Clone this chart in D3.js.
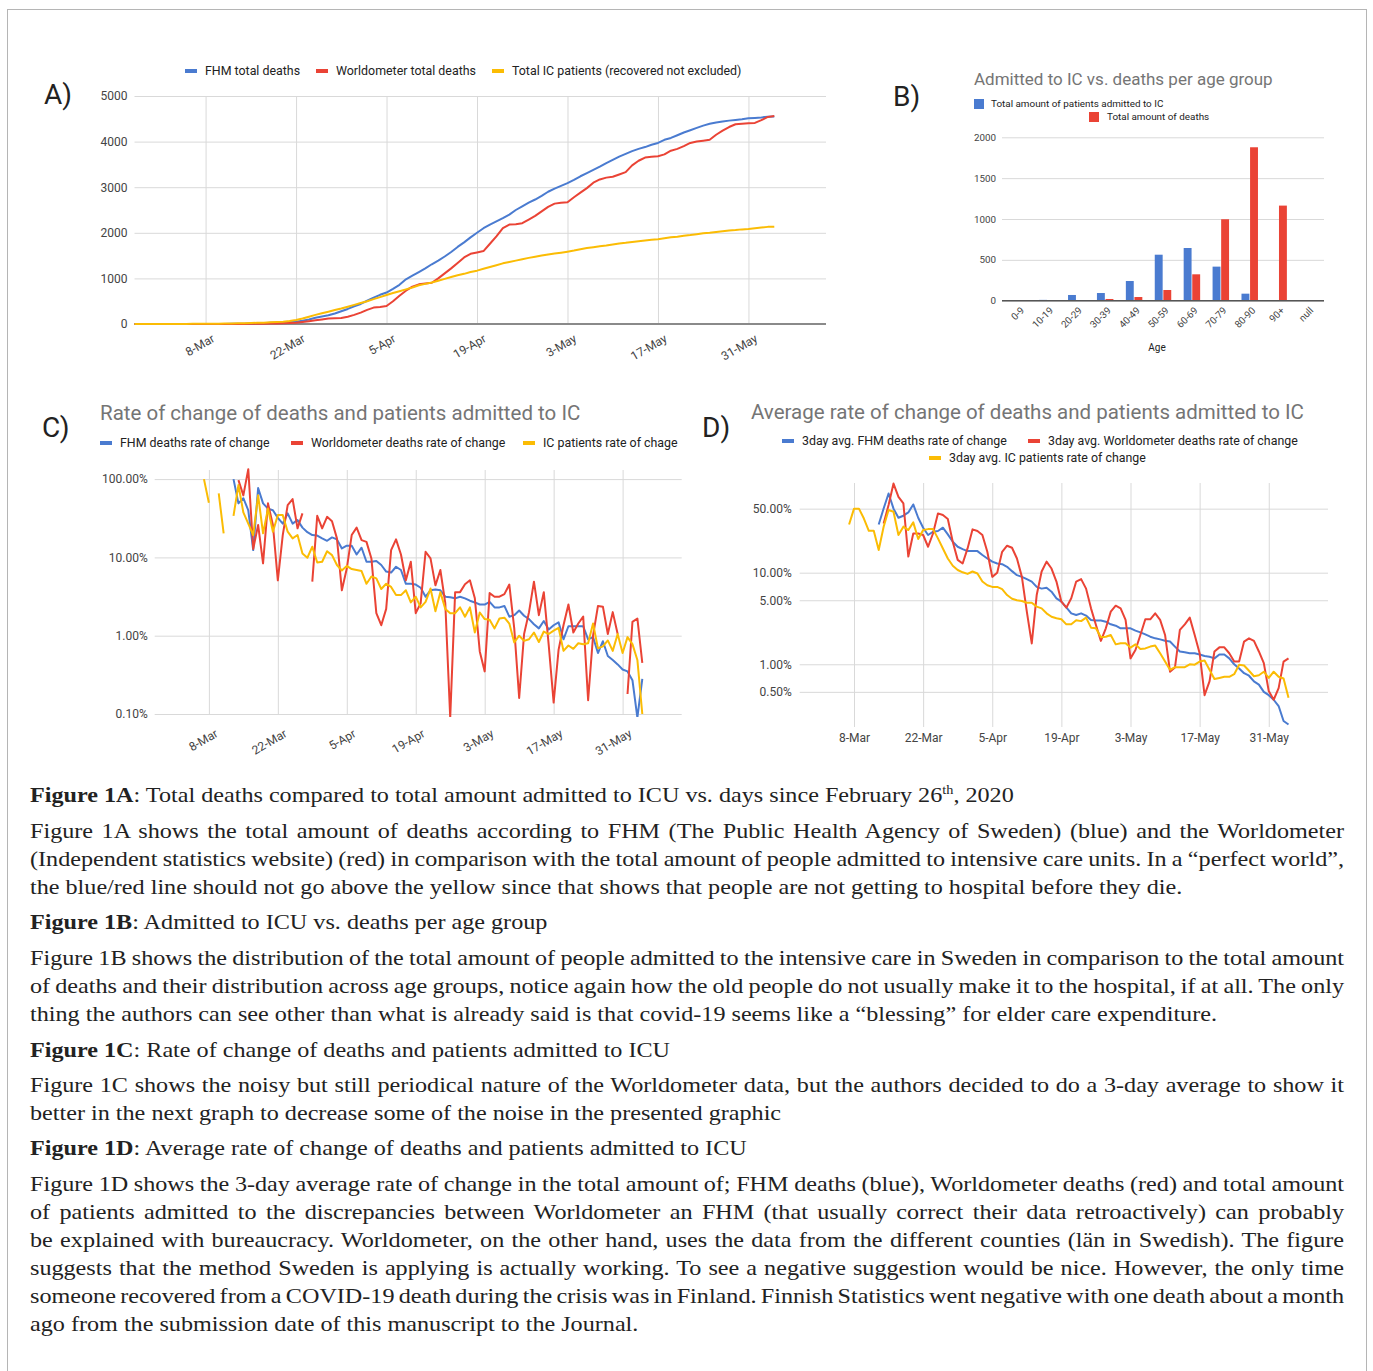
<!DOCTYPE html>
<html>
<head>
<meta charset="utf-8">
<script src="https://cdn.jsdelivr.net/npm/d3@7"></script>
<style>
  body { margin: 0; background: #fff; }
</style>
</head>
<body>
<svg id="fig" width="1373" height="1371"></svg>
<script>
// ---------- data ----------
const tickLabels = ["8-Mar", "22-Mar", "5-Apr", "19-Apr", "3-May", "17-May", "31-May"];

// A) cumulative totals, one value per day starting 26-Feb-2020
const fhmTotal = [
  0,0,0,0,0,0,0,0,0,0,0,0,1,1,2,3,5,8,10,14,18,25,
  30,37,44,51,70,100,135,165,190,230,
  280,330,390,440,510,580,640,690,770,860,
  980,1060,1140,1220,1310,1390,1480,1580,1690,1790,
  1900,2000,2100,2180,2250,2320,2400,2500,2580,2660,
  2730,2810,2900,2970,3030,3090,3160,3240,3310,3380,
  3450,3530,3600,3670,3730,3790,3840,3880,3930,3970,
  4040,4080,4140,4200,4250,4300,4350,4390,4420,4440,
  4460,4475,4490,4510,4520,4530,4545,4550
];
const worldTotal = [
  0,0,0,0,0,0,0,0,0,0,0,0,0,0,1,1,1,2,4,7,
  8,10,12,16,21,29,45,62,80,100,
  120,124,130,160,200,250,310,360,375,395,
  500,620,730,820,870,890,905,1000,1110,1220,
  1340,1460,1540,1570,1600,1760,1920,2100,2180,2190,
  2210,2290,2370,2470,2570,2640,2660,2670,2780,2880,
  2980,3100,3170,3210,3230,3280,3330,3480,3580,3650,
  3670,3680,3720,3800,3840,3900,3970,4000,4020,4040,
  4150,4240,4320,4380,4390,4400,4410,4470,4540,4560
];
const icTotal = [
  0,0,0,0,0,0,1,1,2,3,4,5,6,8,10,12,
  15,18,22,26,30,36,43,51,65,88,
  120,160,200,235,270,305,340,380,420,460,
  500,545,590,636,680,720,760,800,850,880,
  910,950,990,1030,1070,1100,1140,1170,1210,1250,
  1290,1330,1360,1390,1420,1450,1475,1500,1525,1545,
  1565,1586,1610,1640,1665,1685,1705,1720,1745,1765,
  1780,1800,1815,1830,1845,1860,1880,1900,1915,1935,
  1950,1970,1990,2000,2020,2035,2050,2060,2075,2085,
  2100,2115,2130,2135
];
const totalTicks = [0, 1000, 2000, 3000, 4000, 5000];

// B) per age group
const ageGroups = ["0-9", "10-19", "20-29", "30-39", "40-49", "50-59", "60-69", "70-79", "80-90", "90+", "null"];
const icByAge = [7, 10, 70, 94, 241, 563, 645, 417, 86, 2, 0];
const deathsByAge = [1, 1, 8, 21, 45, 131, 323, 997, 1878, 1164, 0];
const ageTicks = [0, 500, 1000, 1500, 2000];

// C) daily rate of change, percent (null = no value)
const fhmRate = [
  null,null,null,null,null,null,null,null,null,null,null,null,null,null,null,null,
  100,49,57,40,12.4,77,49,42,40,32,
  27,36.5,27,30,24,21,19.3,19,17.5,16.3,
  18,17,13,14.1,14.1,10.9,13.3,8.8,8.8,9.0,
  8.0,6.6,6.4,7.6,6.9,4.6,4.6,4.5,4.1,3.15,
  3.8,3.9,3.8,3.15,3.1,3.0,3.15,3.0,2.8,2.66,
  2.5,2.5,2.7,2.3,2.3,2.4,1.75,1.83,2.1,1.8,
  1.63,1.4,1.24,1.54,1.2,1.36,1.48,0.9,1.32,1.32,
  1.32,1.32,0.9,0.96,0.6,0.85,0.55,0.49,0.43,0.37,
  0.35,0.27,0.09,0.28
];
const worldRate = [
  null,null,null,null,null,null,null,null,null,null,null,null,null,null,null,null,null,
  97,62,134,12.8,26,8.4,49,26,5.1,19.3,
  46.6,55.5,23.5,36.5,null,4.9,34,23.5,33,29,
  17.5,3.8,7.2,19.3,24,16.6,15.8,9.7,1.94,1.36,
  2.2,12.4,17,10.9,5.1,8.8,1.94,2.6,11.8,9.7,
  4.4,6.9,2.6,0.09,3.6,3.6,4.55,5.1,3.0,0.63,
  0.35,3.5,3.15,3.15,3.4,4.5,1.24,0.16,1.05,2.0,
  4.9,1.83,3.6,0.76,0.14,0.66,1.36,2.5,1.1,1.43,
  1.75,0.15,1.0,2.4,2.35,1.05,2.0,1.05,null,0.18,
  1.5,1.66,0.45
];
const icRate = [
  null,null,null,null,null,null,null,null,null,null,
  100,50,null,65.6,20.3,null,34,84,37.5,27,
  19.3,62,20.3,42,21.3,34.7,34.7,21.3,17.5,19.3,
  11.2,9.9,13.7,8.6,8.8,12,10.7,8.0,6.8,7.8,
  7.1,6.9,6.7,4.6,5.7,5.4,3.95,4.6,4.2,3.3,
  3.3,3.8,2.66,3.15,2.3,2.7,4.0,2.05,3.6,2.2,
  1.94,1.94,2.3,1.75,2.3,1.1,1.98,1.63,1.6,1.24,
  1.66,1.7,1.43,0.82,1.0,0.86,0.9,1.1,0.83,1.13,
  1.05,1.16,1.26,0.64,0.75,0.68,0.8,0.78,0.8,1.43,
  0.69,0.73,0.87,0.64,1.05,0.6,0.96,0.78,0.49,0.1
];
const rateTicks = [0.1, 1, 10, 100];

// D) 3-day average rate of change, percent
const fhmAvg = [
  null,null,null,null,null,null,null,null,null,null,null,null,null,null,null,null,
  33.6,50.3,73.3,50,39.8,41.9,45.5,55.6,39.8,31,
  25.8,28,28.5,31,26.2,21.8,19.2,18.1,17.2,17.2,
  17.2,15.6,14.3,13.2,12.6,12.4,11.6,10.4,9.4,9.0,
  8.5,8.0,7.0,6.7,6.85,6.2,5.25,4.83,4.19,3.6,
  3.45,3.6,3.4,3.05,3.0,3.0,2.92,2.73,2.64,2.47,
  2.47,2.47,2.33,2.23,2.12,2.0,1.92,1.87,1.81,1.77,
  1.56,1.38,1.35,1.32,1.32,1.28,1.23,1.21,1.16,1.28,
  1.28,1.16,1.0,0.9,0.8,0.75,0.65,0.6,0.5,0.46,
  0.41,0.35,0.24,0.22
];
const worldAvg = [
  null,null,null,null,null,null,null,null,null,null,null,null,null,null,null,null,null,
  34.5,54.7,94,67.4,57,15,26.8,26.8,25.8,19.2,
  26.8,44.4,42.6,38.5,21.8,13.8,12.6,18.4,29.7,28.5,
  25.8,16.9,9.0,10,16.9,19.7,18.7,14.3,9.0,3.76,
  1.69,5.7,10.3,13.2,11.1,8.0,4.83,4.15,5.25,8.0,
  8.5,6.7,4.08,2.69,1.8,2.47,3.76,4.36,4.08,3.05,
  1.16,1.43,2.09,3.1,3.1,3.6,3.05,2.09,0.83,0.92,
  2.37,2.73,3.23,2.09,1.32,0.46,0.65,1.38,1.53,1.53,
  1.32,1.07,1.07,1.77,1.92,1.8,1.38,1.03,0.51,0.41,
  0.55,1.07,1.16
];
const icAvg = [
  null,null,null,null,null,null,null,null,null,null,
  33.6,50,50,39,28.7,28.7,17.7,31.8,48.3,46.3,
  25.8,31.8,29.2,35.4,23.3,29.2,29.9,29.9,23.7,18.4,
  14.3,11.9,10.7,10.1,9.7,10.3,9.8,8.0,7.3,7.0,
  7.0,6.6,5.7,5.2,5.0,4.9,4.7,4.7,4.26,4.08,
  3.6,3.3,3.18,3.1,2.73,2.73,3.02,2.96,3.23,2.51,
  2.47,1.97,2.0,2.09,1.65,1.7,1.7,1.52,1.65,1.47,
  1.49,1.56,1.6,1.32,1.07,0.87,0.93,0.93,0.93,1.0,
  0.99,1.07,1.1,0.87,0.69,0.71,0.73,0.73,0.78,0.99,
  0.97,0.85,0.74,0.76,0.83,0.71,0.83,0.73,0.7,0.43
];
const avgTicks = [0.5, 1, 5, 10, 50];

// caption text, one entry per printed line
const captionLines = [
  { y: 802, segs: [["Figure 1A", "b"], [": Total deaths compared to total amount admitted to ICU vs. days since February 26"], ["th", "sup"], [", 2020"]] },
  { y: 838, justify: true, segs: [["Figure 1A shows the total amount of deaths according to FHM (The Public Health Agency of Sweden) (blue) and the Worldometer"]] },
  { y: 866, justify: true, segs: [["(Independent statistics website) (red) in comparison with the total amount of people admitted to intensive care units. In a “perfect world”,"]] },
  { y: 894, target: 1154, segs: [["the blue/red line should not go above the yellow since that shows that people are not getting to hospital before they die."]] },
  { y: 929, segs: [["Figure 1B", "b"], [": Admitted to ICU vs. deaths per age group"]] },
  { y: 965, justify: true, segs: [["Figure 1B shows the distribution of the total amount of people admitted to the intensive care in Sweden in comparison to the total amount"]] },
  { y: 993, justify: true, segs: [["of deaths and their distribution across age groups, notice again how the old people do not usually make it to the hospital, if at all. The only"]] },
  { y: 1021, target: 1183, segs: [["thing the authors can see other than what is already said is that covid-19 seems like a “blessing” for elder care expenditure."]] },
  { y: 1057, segs: [["Figure 1C", "b"], [": Rate of change of deaths and patients admitted to ICU"]] },
  { y: 1092, justify: true, segs: [["Figure 1C shows the noisy but still periodical nature of the Worldometer data, but the authors decided to do a 3-day average to show it"]] },
  { y: 1120, target: 756, segs: [["better in the next graph to decrease some of the noise in the presented graphic"]] },
  { y: 1155, segs: [["Figure 1D", "b"], [": Average rate of change of deaths and patients admitted to ICU"]] },
  { y: 1191, justify: true, segs: [["Figure 1D shows the 3-day average rate of change in the total amount of; FHM deaths (blue), Worldometer deaths (red) and total amount"]] },
  { y: 1219, justify: true, segs: [["of patients admitted to the discrepancies between Worldometer an FHM (that usually correct their data retroactively) can probably"]] },
  { y: 1247, justify: true, segs: [["be explained with bureaucracy. Worldometer, on the other hand, uses the data from the different counties (län in Swedish). The figure"]] },
  { y: 1275, justify: true, segs: [["suggests that the method Sweden is applying is actually working. To see a negative suggestion would be nice. However, the only time"]] },
  { y: 1303, justify: true, segs: [["someone recovered from a COVID-19 death during the crisis was in Finland. Finnish Statistics went negative with one death about a month"]] },
  { y: 1331, target: 607, segs: [["ago from the submission date of this manuscript to the Journal."]] }
];

// ---------- setup ----------
const svg = d3.select("#fig");
const FONT = "Roboto, Arial, sans-serif";
const BLUE = "#4a7bd0", RED = "#ea4335", YELLOW = "#fbbc04";
const GRID = "#d9d9d9";

const startDate = new Date(2020, 1, 26);
const endDate = new Date(2020, 5, 12);
const parseTick = d3.timeParse("%d-%b-%Y");
const tickDates = tickLabels.map(s => parseTick(s + "-2020"));
const dayDate = i => d3.timeDay.offset(startDate, i);
const pct = v => d3.format(".2f")(v) + "%";
const plain = d3.format("d");

const defs = svg.append("defs");

svg.append("rect")
  .attr("x", 7.5).attr("y", 9.5).attr("width", 1359).attr("height", 1380)
  .attr("fill", "none").attr("stroke", "#b5b5b5");

function styleAxis(g) {
  g.attr("font-family", FONT).attr("font-size", 12);
  g.select(".domain").remove();
  g.selectAll(".tick line").attr("stroke", GRID);
  g.selectAll(".tick text").attr("fill", "#444");
}

function panelLabel(txt, x, y) {
  svg.append("text").attr("x", x).attr("y", y)
    .attr("font-family", FONT).attr("font-size", 28).attr("fill", "#222")
    .text(txt);
}

function legendItem(g, x, y, color, label) {
  g.append("rect").attr("x", x).attr("y", y - 2).attr("width", 12).attr("height", 4).attr("fill", color);
  g.append("text").attr("x", x + 20).attr("y", y + 4)
    .attr("font-family", FONT).attr("font-size", 12.4).attr("fill", "#222")
    .text(label);
}

function clipRect(id, x, y, w, h) {
  defs.append("clipPath").attr("id", id)
    .append("rect").attr("x", x).attr("y", y).attr("width", w).attr("height", h);
}

function drawSeries(g, x, y, list, clip) {
  const pg = g.append("g");
  if (clip) pg.attr("clip-path", "url(#" + clip + ")");
  list.forEach(s => {
    const line = d3.line()
      .defined(v => v != null)
      .x((v, i) => x(dayDate(i)))
      .y(v => y(v));
    pg.append("path").datum(s.values)
      .attr("d", line)
      .attr("fill", "none")
      .attr("stroke", s.color)
      .attr("stroke-width", 2)
      .attr("stroke-linejoin", "round");
  });
}

// ---------- A) totals ----------
const gA = svg.append("g");
const xA = d3.scaleTime().domain([startDate, endDate]).range([134.5, 826]);
const yA = d3.scaleLinear().domain([0, 5000]).range([324, 96]);

panelLabel("A)", 44, 104);
legendItem(gA, 185, 71, BLUE, "FHM total deaths");
legendItem(gA, 316, 71, RED, "Worldometer total deaths");
legendItem(gA, 492, 71, YELLOW, "Total IC patients (recovered not excluded)");

gA.append("g").attr("transform", "translate(134.5,0)")
  .call(d3.axisLeft(yA).tickValues(totalTicks).tickFormat(plain).tickSize(-(826 - 134.5)).tickPadding(7))
  .call(styleAxis);
gA.append("g").attr("transform", "translate(0,324)")
  .call(d3.axisBottom(xA).tickValues(tickDates).tickSize(-(324 - 96)).tickFormat(""))
  .call(styleAxis);
gA.selectAll(".xlab").data(tickDates).join("text")
  .attr("transform", d => `translate(${xA(d) + 10},${324 + 17}) rotate(-30)`)
  .attr("text-anchor", "end").attr("font-family", FONT).attr("font-size", 12).attr("fill", "#444")
  .text((d, i) => tickLabels[i]);
gA.append("line").attr("x1", 134.5).attr("x2", 826).attr("y1", yA(0)).attr("y2", yA(0))
  .attr("stroke", "#8a8a8a").attr("stroke-width", 1.8);

drawSeries(gA, xA, yA, [
  { values: fhmTotal, color: BLUE },
  { values: worldTotal, color: RED },
  { values: icTotal, color: YELLOW }
]);

// ---------- B) per age group ----------
const gB = svg.append("g");
const xB = d3.scaleBand().domain(ageGroups).range([1004, 1322]).paddingInner(0.43).paddingOuter(0.215);
const xB1 = d3.scaleBand().domain(["ic", "deaths"]).range([0, xB.bandwidth()]).paddingInner(0.08);
const yB = d3.scaleLinear().domain([0, 2000]).range([300.7, 137.3]);

panelLabel("B)", 893, 106);
gB.append("text").attr("x", 974).attr("y", 85)
  .attr("font-family", FONT).attr("font-size", 17).attr("fill", "#757575")
  .text("Admitted to IC vs. deaths per age group");
gB.append("rect").attr("x", 974).attr("y", 99).attr("width", 10).attr("height", 10).attr("fill", BLUE);
gB.append("text").attr("x", 991).attr("y", 107).attr("font-family", FONT).attr("font-size", 9.9).attr("fill", "#222")
  .text("Total amount of patients admitted to IC");
gB.append("rect").attr("x", 1089).attr("y", 112).attr("width", 10).attr("height", 10).attr("fill", RED);
gB.append("text").attr("x", 1107).attr("y", 120).attr("font-family", FONT).attr("font-size", 9.9).attr("fill", "#222")
  .text("Total amount of deaths");

gB.append("g").attr("transform", "translate(1002,0)")
  .call(d3.axisLeft(yB).tickValues(ageTicks).tickFormat(plain).tickSize(-(1324 - 1002)).tickPadding(6))
  .call(styleAxis)
  .attr("font-size", 9.8);

const groups = gB.selectAll(".grp").data(ageGroups).join("g")
  .attr("transform", d => `translate(${xB(d)},0)`);
groups.append("rect")
  .attr("x", xB1("ic")).attr("width", xB1.bandwidth())
  .attr("y", (d, i) => yB(icByAge[i])).attr("height", (d, i) => yB(0) - yB(icByAge[i]))
  .attr("fill", BLUE);
groups.append("rect")
  .attr("x", xB1("deaths")).attr("width", xB1.bandwidth())
  .attr("y", (d, i) => yB(deathsByAge[i])).attr("height", (d, i) => yB(0) - yB(deathsByAge[i]))
  .attr("fill", RED);
gB.append("line").attr("x1", 1002).attr("x2", 1324).attr("y1", yB(0)).attr("y2", yB(0))
  .attr("stroke", "#555").attr("stroke-width", 1.5);
gB.selectAll(".blab").data(ageGroups).join("text")
  .attr("transform", d => `translate(${xB(d) + xB.bandwidth() / 2 + 4},${yB(0) + 8}) rotate(-45)`)
  .attr("text-anchor", "end").attr("dy", "0.35em")
  .attr("font-family", FONT).attr("font-size", 9.8).attr("fill", "#444")
  .text(d => d);
gB.append("text").attr("x", 1157).attr("y", 351).attr("text-anchor", "middle")
  .attr("font-family", FONT).attr("font-size", 10).attr("fill", "#222").text("Age");

// ---------- C) rate of change ----------
const gC = svg.append("g");
const xC = d3.scaleTime().domain([startDate, endDate]).range([154.7, 681.7]);
const yC = d3.scaleLog().domain([0.1, 137]).range([714, 468.4]);

panelLabel("C)", 42, 437);
gC.append("text").attr("x", 100).attr("y", 420)
  .attr("font-family", FONT).attr("font-size", 20.5).attr("fill", "#757575")
  .text("Rate of change of deaths and patients admitted to IC");
legendItem(gC, 100, 443, BLUE, "FHM deaths rate of change");
legendItem(gC, 291, 443, RED, "Worldometer deaths rate of change");
legendItem(gC, 523, 443, YELLOW, "IC patients rate of chage");

gC.append("g").attr("transform", "translate(154.7,0)")
  .call(d3.axisLeft(yC).tickValues(rateTicks).tickFormat(pct).tickSize(-(681.7 - 154.7)).tickPadding(7))
  .call(styleAxis);
gC.append("g").attr("transform", "translate(0,714)")
  .call(d3.axisBottom(xC).tickValues(tickDates).tickSize(-(714 - 470)).tickFormat(""))
  .call(styleAxis);
gC.selectAll(".xlab").data(tickDates).join("text")
  .attr("transform", d => `translate(${xC(d) + 10},${714 + 22}) rotate(-30)`)
  .attr("text-anchor", "end").attr("font-family", FONT).attr("font-size", 12).attr("fill", "#444")
  .text((d, i) => tickLabels[i]);

clipRect("clipC", 154.7, 466, 527, 251);
drawSeries(gC, xC, yC, [
  { values: fhmRate, color: BLUE },
  { values: worldRate, color: RED },
  { values: icRate, color: YELLOW }
], "clipC");

// ---------- D) 3-day average ----------
const gD = svg.append("g");
const xD = d3.scaleTime().domain([startDate, endDate]).range([799.7, 1328]);
const yD = d3.scaleLog().domain([0.2, 100]).range([728.3, 481.1]);

panelLabel("D)", 702, 437);
gD.append("text").attr("x", 751).attr("y", 419)
  .attr("font-family", FONT).attr("font-size", 20.5).attr("fill", "#757575")
  .text("Average rate of change of deaths and patients admitted to IC");
legendItem(gD, 782, 441, BLUE, "3day avg. FHM deaths rate of change");
legendItem(gD, 1028, 441, RED, "3day avg. Worldometer deaths rate of change");
legendItem(gD, 929, 458, YELLOW, "3day avg. IC patients rate of change");

gD.append("g").attr("transform", "translate(799.7,0)")
  .call(d3.axisLeft(yD).tickValues(avgTicks).tickFormat(pct).tickSize(-(1328 - 799.7)).tickPadding(8))
  .call(styleAxis);
gD.append("g").attr("transform", "translate(0,727)")
  .call(d3.axisBottom(xD).tickValues(tickDates).tickSize(-(727 - 483)).tickPadding(6.5)
    .tickFormat((d, i) => tickLabels[i]))
  .call(styleAxis);

clipRect("clipD", 799.7, 481, 528.3, 248);
drawSeries(gD, xD, yD, [
  { values: fhmAvg, color: BLUE },
  { values: worldAvg, color: RED },
  { values: icAvg, color: YELLOW }
], "clipD");

// ---------- caption text ----------
const textG = svg.append("g")
  .attr("font-family", "'Liberation Serif', 'Times New Roman', serif")
  .attr("font-size", 22).attr("fill", "#222");

const lineNodes = textG.selectAll("text").data(captionLines).join("text")
  .attr("x", 0).attr("y", d => d.y);
lineNodes.each(function (d) {
  const t = d3.select(this);
  let lift = 0;
  d.segs.forEach(([str, kind]) => {
    const ts = t.append("tspan").text(str);
    if (kind === "b") ts.attr("font-weight", "bold");
    if (kind === "sup") { ts.attr("font-size", 13).attr("dy", -8); lift = 8; }
    else if (lift) { ts.attr("dy", lift); lift = 0; }
  });
});

// condense glyphs so the ragged lines end where the page shows them
const ratios = [];
lineNodes.each(function (d) {
  if (d.target) ratios.push(d.target / this.getComputedTextLength());
});
const k = d3.mean(ratios);
textG.attr("transform", `translate(30,0) scale(${k},1)`);

lineNodes.each(function (d) {
  if (!d.justify) return;
  const str = d.segs.map(s => s[0]).join("");
  const spaces = (str.match(/ /g) || []).length;
  const extra = (1314 / k - this.getComputedTextLength()) / spaces;
  d3.select(this).attr("word-spacing", extra);
});
</script>
</body>
</html>
